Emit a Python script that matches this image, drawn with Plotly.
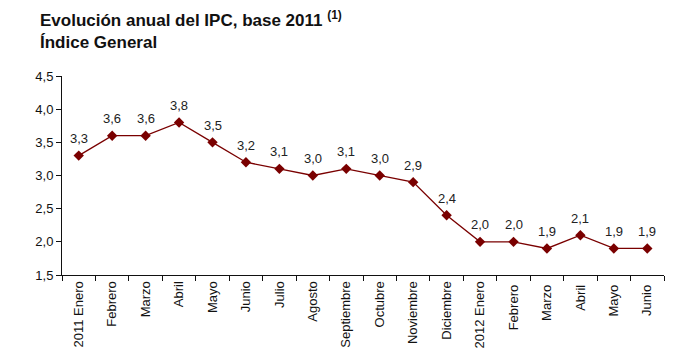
import plotly.graph_objects as go

months = ["2011 Enero", "Febrero", "Marzo", "Abril", "Mayo", "Junio", "Julio", "Agosto",
          "Septiembre", "Octubre", "Noviembre", "Diciembre", "2012 Enero", "Febrero ",
          "Marzo ", "Abril ", "Mayo ", "Junio "]
ipc = [3.3, 3.6, 3.6, 3.8, 3.5, 3.2, 3.1, 3.0, 3.1, 3.0, 2.9, 2.4, 2.0, 2.0, 1.9, 2.1, 1.9, 1.9]
labels = [f"{v:.1f}".replace(".", ",") for v in ipc]

font = "Liberation Sans, Arial, sans-serif"
col = "#7a0000"

fig = go.Figure()
fig.add_trace(go.Scatter(
    x=months, y=ipc, mode="lines+markers",
    line=dict(color=col, width=1.3),
    marker=dict(symbol="diamond", size=8, color=col),
    hoverinfo="skip",
))
for m, v, t in zip(months, ipc, labels):
    fig.add_annotation(x=m, y=v, text=t, showarrow=False, yshift=17,
                       font=dict(family=font, size=13, color="#222"))

fig.add_annotation(xref="paper", yref="paper", x=-0.04, y=1.0, xanchor="left", yanchor="bottom",
                   yshift=22, align="left", showarrow=False,
                   text="<b>Evolución anual del IPC, base 2011 <sup>(1)</sup></b><br><b>Índice General</b>",
                   font=dict(family=font, size=17, color="#111"))

fig.update_layout(
    width=672, height=347,
    margin=dict(l=54, r=16, t=68, b=80),
    paper_bgcolor="white", plot_bgcolor="white",
    separators=",.",
    showlegend=False,
    font=dict(family=font, size=13, color="#111"),
)
fig.update_xaxes(type="category", tickson="boundaries", ticks="outside", ticklen=5,
                 tickcolor="#111", showline=True, linecolor="#111", linewidth=1,
                 showgrid=False, tickangle=-90, tickfont=dict(size=13), automargin=False,
                 range=[-0.5, len(months) - 0.5])
fig.update_yaxes(range=[1.5, 4.5], dtick=0.5, tickformat=".1f", ticks="outside", ticklen=5,
                 tickcolor="#111", showline=True, linecolor="#111", linewidth=1, automargin=False,
                 showgrid=False, zeroline=False, tickfont=dict(size=13))

fig.write_html("out.html")
